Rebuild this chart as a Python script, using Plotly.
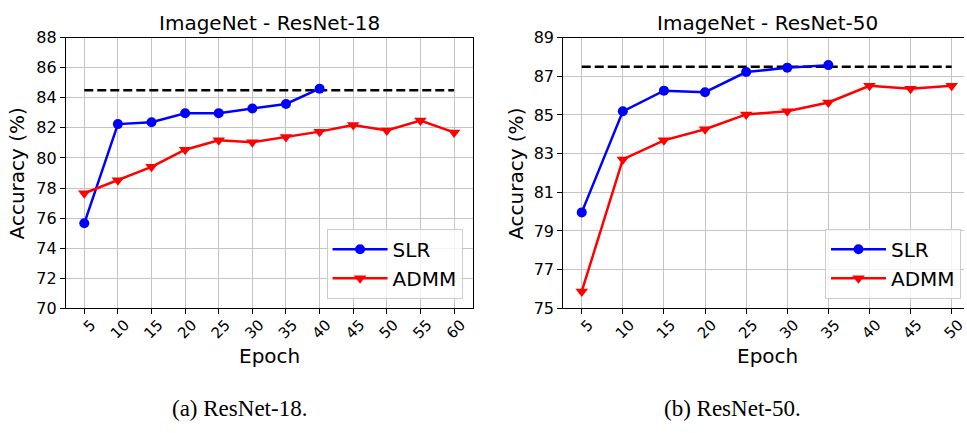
import plotly.graph_objects as go

# ---------------- data ----------------
epochs_18 = [5, 10, 15, 20, 25, 30, 35, 40, 45, 50, 55, 60]
slr_epochs_18 = [5, 10, 15, 20, 25, 30, 35, 40]
slr_18 = [75.65, 82.25, 82.38, 82.97, 82.98, 83.29, 83.59, 84.61]
admm_18 = [77.65, 78.52, 79.41, 80.55, 81.17, 81.05, 81.40, 81.75, 82.19, 81.83, 82.49, 81.70]
baseline_18 = 84.5

epochs_50 = [5, 10, 15, 20, 25, 30, 35, 40, 45, 50]
slr_epochs_50 = [5, 10, 15, 20, 25, 30, 35]
slr_50 = [79.96, 85.19, 86.26, 86.18, 87.22, 87.45, 87.58]
admm_50 = [75.87, 82.70, 83.69, 84.26, 85.03, 85.19, 85.65, 86.51, 86.36, 86.51]
baseline_50 = 87.5

yticks_18 = [70, 72, 74, 76, 78, 80, 82, 84, 86, 88]
yticks_50 = [75, 77, 79, 81, 83, 85, 87, 89]

titles = ["ImageNet - ResNet-18", "ImageNet - ResNet-50"]
captions = ["(a) ResNet-18.", "(b) ResNet-50."]

# ---------------- layout helpers ----------------
W, H = 967, 433
def px(x):
    return x / W
def py(y):
    return 1 - y / H

FONT = "DejaVu Sans"
LW = 2.5

fig = go.Figure()

def add_panel(epochs, slr_ep, slr, admm, base, xa, ya, legend):
    fig.add_trace(go.Scatter(
        x=[epochs[0], epochs[-1]], y=[base, base], mode="lines",
        line=dict(color="black", width=LW, dash="9px,4px"),
        showlegend=False, xaxis=xa, yaxis=ya, hoverinfo="skip"))
    fig.add_trace(go.Scatter(
        x=slr_ep, y=slr, mode="lines+markers", name="SLR",
        line=dict(color="#0000ff", width=LW),
        marker=dict(symbol="circle", size=10, color="#0000ff"),
        xaxis=xa, yaxis=ya, legend=legend))
    fig.add_trace(go.Scatter(
        x=epochs, y=admm, mode="lines+markers", name="ADMM",
        line=dict(color="#ff0000", width=LW),
        marker=dict(symbol="triangle-down", size=11, color="#ff0000"),
        xaxis=xa, yaxis=ya, legend=legend))

add_panel(epochs_18, slr_epochs_18, slr_18, admm_18, baseline_18, "x", "y", "legend")
add_panel(epochs_50, slr_epochs_50, slr_50, admm_50, baseline_50, "x2", "y2", "legend2")

grid = "#c4c4c4"
common_x = dict(showgrid=True, gridcolor=grid, gridwidth=1, showline=True,
                linecolor="black", linewidth=1, ticks="outside", ticklen=5,
                tickcolor="black", tickwidth=1, tickangle=-45, zeroline=False,
                tickfont=dict(family=FONT, size=15, color="black"),
                ticklabelshift=7, ticklabelstandoff=-4, ticklabeloverflow="allow")
common_y = dict(showgrid=True, gridcolor=grid, gridwidth=1, showline=True,
                linecolor="black", linewidth=1, ticks="outside", ticklen=5,
                tickcolor="black", tickwidth=1, zeroline=False,
                tickfont=dict(family=FONT, size=16, color="black"))

x1_dom = [px(66), px(474)]
x2_dom = [px(565), 1.0]
y_dom = [py(313), py(30)]

legend_common = dict(font=dict(family=FONT, size=20, color="black"),
                     bgcolor="rgba(255,255,255,0.8)", bordercolor="#cccccc",
                     borderwidth=1, xanchor="right", yanchor="bottom",
                     itemwidth=55, tracegroupgap=0)

fig.update_layout(
    width=W, height=H,
    margin=dict(l=0, r=0, t=0, b=0),
    paper_bgcolor="white", plot_bgcolor="white",
    font=dict(family=FONT, color="black"),
    xaxis=dict(domain=x1_dom, range=[2.25, 62.75], anchor="y",
               tickvals=epochs_18, ticktext=[str(e) for e in epochs_18],
               mirror=True, **common_x),
    yaxis=dict(domain=y_dom, range=[70, 88], anchor="x",
               tickvals=yticks_18, mirror=True, **common_y),
    xaxis2=dict(domain=x2_dom, range=[2.75, 51.5], anchor="y2",
                tickvals=epochs_50, ticktext=[str(e) for e in epochs_50],
                mirror=True, **common_x),
    yaxis2=dict(domain=y_dom, range=[75, 89], anchor="x2",
                tickvals=yticks_50, mirror=False, **common_y),
    legend=dict(x=px(464), y=py(303), **legend_common),
    legend2=dict(x=px(964), y=py(303), **legend_common),
    showlegend=True,
)

annos = []
centers = [270, 770]
for c, t in zip(centers, titles):
    annos.append(dict(text=t, x=px(c), y=py(15), xref="paper", yref="paper",
                      xanchor="center", yanchor="middle", showarrow=False,
                      font=dict(family=FONT, size=20, color="black")))
    annos.append(dict(text="Epoch", x=px(c), y=py(363), xref="paper", yref="paper",
                      xanchor="center", yanchor="middle", showarrow=False,
                      font=dict(family=FONT, size=20, color="black")))
for xc in [18, 518]:
    annos.append(dict(text="Accuracy (%)", x=px(xc), y=py(172), xref="paper",
                      yref="paper", xanchor="center", yanchor="middle",
                      textangle=-90, showarrow=False,
                      font=dict(family=FONT, size=20, color="black")))
for xc, t in zip([240, 735], captions):
    annos.append(dict(text=t, x=px(xc), y=py(418), xref="paper", yref="paper",
                      xanchor="center", yanchor="middle", showarrow=False,
                      font=dict(family="Liberation Serif", size=23, color="black")))
fig.update_layout(annotations=annos)

fig.write_html("out.html", config={"displayModeBar": False},
               post_script="document.body.style.margin='0px';")
